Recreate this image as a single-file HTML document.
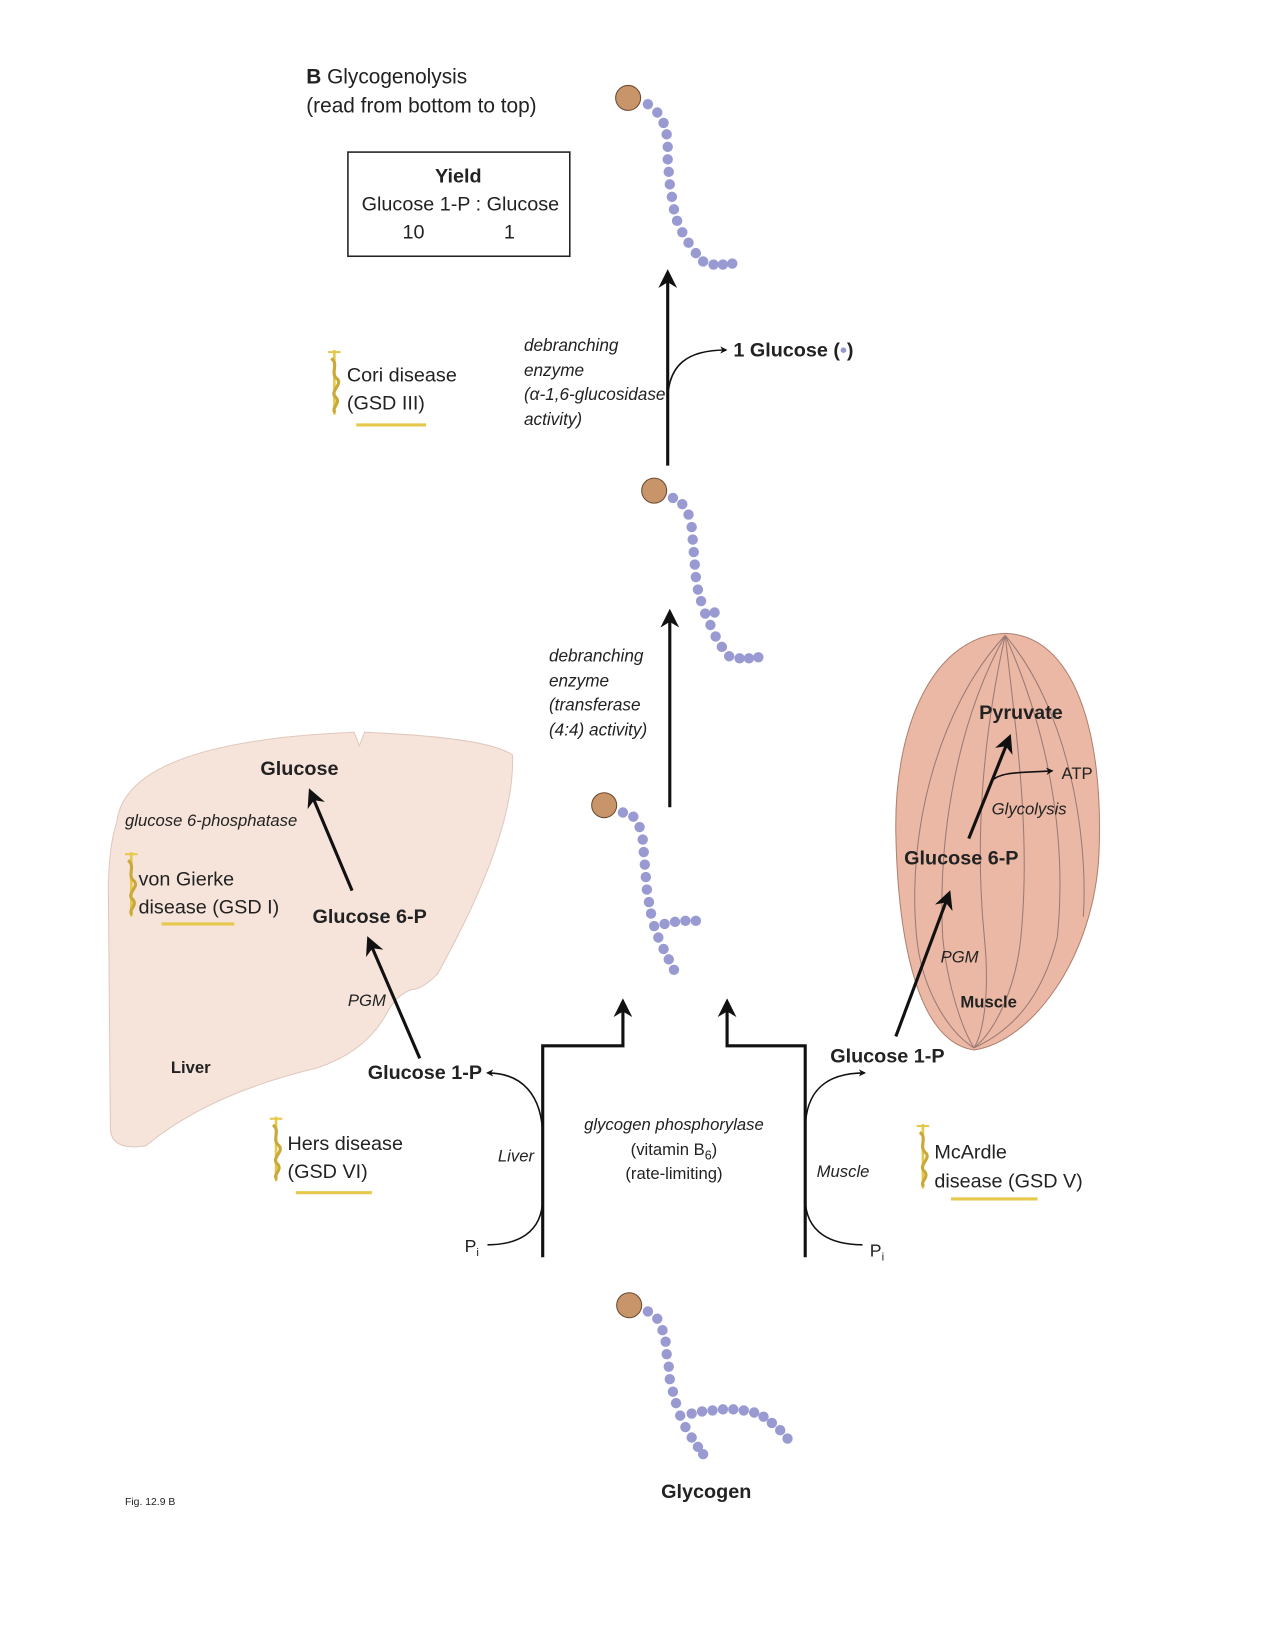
<!DOCTYPE html>
<html><head><meta charset="utf-8"><style>
html,body{margin:0;padding:0;background:#fff}
svg{display:block}
text{font-family:"Liberation Sans",sans-serif;fill:#222}
.b{font-weight:bold}
.i{font-style:italic}
</style></head><body>
<svg width="1275" height="1650" viewBox="0 0 1224 1584" xmlns="http://www.w3.org/2000/svg">
<defs>
<marker id="ah" viewBox="0 0 10 10" refX="8" refY="5" markerWidth="7" markerHeight="7" orient="auto" markerUnits="userSpaceOnUse"><path d="M0,0 L10,5 L0,10 L3,5 Z" fill="#111"/></marker>
<marker id="AH" viewBox="0 0 10 10" refX="8" refY="5" markerWidth="18" markerHeight="18" orient="auto" markerUnits="userSpaceOnUse"><path d="M0,0 L10,5 L0,10 L3,5 Z" fill="#111"/></marker>
<g id="cad"><line x1="0" y1="0" x2="0" y2="62" stroke="#e6c84a" stroke-width="2.5"/><line x1="-6" y1="2" x2="6" y2="2" stroke="#e6c84a" stroke-width="2"/><path d="M-3,8 C5,14 -5,22 3,28 C8,34 -6,40 2,46 C6,52 -4,56 1,60" stroke="#c9a93a" stroke-width="3" fill="none"/></g>
</defs>

<text x="294" y="80" font-size="20"><tspan class="b">B</tspan> Glycogenolysis</text>
<text x="294" y="108" font-size="20">(read from bottom to top)</text>
<rect x="334" y="146" width="213" height="100" fill="none" stroke="#222" stroke-width="1.5"/>
<text x="440" y="175" font-size="19" class="b" text-anchor="middle">Yield</text>
<text x="442" y="202" font-size="19" text-anchor="middle">Glucose 1-P : Glucose</text>
<text x="397" y="229" font-size="19" text-anchor="middle">10</text>
<text x="489" y="229" font-size="19" text-anchor="middle">1</text>

<path d="M112,790 Q120,712 340,703 L345,716 L350,703 Q470,708 492,725 Q495,800 420,935 Q405,950 395,950 Q380,955 370,975 Q350,1010 305,1025 Q200,1050 140,1100 Q108,1105 106,1085 L104,850 Q105,810 112,790 Z" fill="#f6e4db" stroke="#e0c8bc" stroke-width="1"/>
<g>
<path d="M965,608 C1030,610 1060,700 1055,820 C1050,920 990,1000 935,1008 C880,1000 862,900 860,800 C858,690 900,610 965,608 Z" fill="#ebb8a6" stroke="#b08070" stroke-width="1"/>
<g fill="none" stroke="#9a7a74" stroke-width="1">
<path d="M965,610 C900,680 870,800 880,900 C885,950 910,990 935,1006"/>
<path d="M965,610 C920,690 900,800 905,900 C910,950 925,990 935,1006"/>
<path d="M965,610 C945,700 935,800 945,900 C950,950 945,990 935,1006"/>
<path d="M965,610 C975,700 990,800 980,900 C975,950 955,990 935,1006"/>
<path d="M965,610 C1005,700 1025,800 1015,900 C1000,960 970,990 935,1006"/>
<path d="M965,610 C1025,680 1045,800 1040,880"/>
</g>
</g>

<g fill="#9a9ad2">
<circle cx="622" cy="100" r="5"/><circle cx="631" cy="108" r="5"/><circle cx="637" cy="118" r="5"/><circle cx="640" cy="129" r="5"/><circle cx="641" cy="141" r="5"/><circle cx="641" cy="153" r="5"/><circle cx="642" cy="165" r="5"/><circle cx="643" cy="177" r="5"/><circle cx="645" cy="189" r="5"/><circle cx="647" cy="201" r="5"/><circle cx="650" cy="212" r="5"/><circle cx="655" cy="223" r="5"/><circle cx="661" cy="233" r="5"/><circle cx="668" cy="243" r="5"/><circle cx="675" cy="251" r="5"/><circle cx="685" cy="254" r="5"/><circle cx="694" cy="254" r="5"/><circle cx="703" cy="253" r="5"/>
<circle cx="646" cy="478" r="5"/><circle cx="655" cy="484" r="5"/><circle cx="661" cy="494" r="5"/><circle cx="664" cy="506" r="5"/><circle cx="665" cy="518" r="5"/><circle cx="666" cy="530" r="5"/><circle cx="667" cy="542" r="5"/><circle cx="668" cy="554" r="5"/><circle cx="670" cy="566" r="5"/><circle cx="673" cy="577" r="5"/><circle cx="677" cy="589" r="5"/><circle cx="682" cy="600" r="5"/><circle cx="687" cy="611" r="5"/><circle cx="693" cy="621" r="5"/><circle cx="700" cy="630" r="5"/><circle cx="710" cy="632" r="5"/><circle cx="719" cy="632" r="5"/><circle cx="728" cy="631" r="5"/><circle cx="686" cy="588" r="5"/>
<circle cx="598" cy="780" r="5"/><circle cx="608" cy="784" r="5"/><circle cx="614" cy="794" r="5"/><circle cx="617" cy="806" r="5"/><circle cx="618" cy="818" r="5"/><circle cx="619" cy="830" r="5"/><circle cx="620" cy="842" r="5"/><circle cx="621" cy="854" r="5"/><circle cx="623" cy="866" r="5"/><circle cx="625" cy="877" r="5"/><circle cx="628" cy="889" r="5"/><circle cx="632" cy="900" r="5"/><circle cx="637" cy="911" r="5"/><circle cx="642" cy="921" r="5"/><circle cx="647" cy="931" r="5"/><circle cx="638" cy="887" r="5"/><circle cx="648" cy="885" r="5"/><circle cx="658" cy="884" r="5"/><circle cx="668" cy="884" r="5"/>
<circle cx="622" cy="1259" r="5"/><circle cx="631" cy="1266" r="5"/><circle cx="636" cy="1277" r="5"/><circle cx="639" cy="1288" r="5"/><circle cx="640" cy="1300" r="5"/><circle cx="642" cy="1312" r="5"/><circle cx="643" cy="1324" r="5"/><circle cx="646" cy="1336" r="5"/><circle cx="649" cy="1347" r="5"/><circle cx="653" cy="1359" r="5"/><circle cx="658" cy="1370" r="5"/><circle cx="664" cy="1380" r="5"/><circle cx="670" cy="1389" r="5"/><circle cx="675" cy="1396" r="5"/>
<circle cx="664" cy="1357" r="5"/><circle cx="674" cy="1355" r="5"/><circle cx="684" cy="1354" r="5"/><circle cx="694" cy="1353" r="5"/><circle cx="704" cy="1353" r="5"/><circle cx="714" cy="1354" r="5"/><circle cx="724" cy="1356" r="5"/><circle cx="733" cy="1360" r="5"/><circle cx="741" cy="1366" r="5"/><circle cx="749" cy="1373" r="5"/><circle cx="756" cy="1381" r="5"/>
</g>
<g fill="#c8956b" stroke="#6b4a2e" stroke-width="1">
<circle cx="603" cy="94" r="12"/><circle cx="628" cy="471" r="12"/><circle cx="580" cy="773" r="12"/><circle cx="604" cy="1253" r="12"/>
</g>

<g stroke="#111" stroke-width="3" fill="none">
<line x1="641" y1="447" x2="641" y2="262" marker-end="url(#AH)"/>
<line x1="643" y1="775" x2="643" y2="588" marker-end="url(#AH)"/>
<polyline points="521,1207 521,1004 598,1004 598,962" marker-end="url(#AH)"/>
<polyline points="773,1207 773,1004 698,1004 698,962" marker-end="url(#AH)"/>
<line x1="338" y1="855" x2="298" y2="760" marker-end="url(#AH)"/>
<line x1="403" y1="1016" x2="354" y2="902" marker-end="url(#AH)"/>
<line x1="930" y1="805" x2="969" y2="708" marker-end="url(#AH)"/>
<line x1="860" y1="995" x2="911" y2="858" marker-end="url(#AH)"/>
</g>
<g stroke="#111" stroke-width="1.5" fill="none">
<path d="M641,385 C641,350 660,336 697,336" marker-end="url(#ah)"/>
<path d="M521,1150 C521,1185 495,1195 468,1195"/>
<path d="M521,1092 C521,1050 500,1030 468,1030" marker-end="url(#ah)"/>
<path d="M773,1150 C773,1185 800,1195 828,1195"/>
<path d="M773,1085 C773,1045 795,1030 830,1030" marker-end="url(#ah)"/>
<path d="M952,750 C960,740 985,742 1010,740" marker-end="url(#ah)"/>
</g>

<text x="704" y="342" font-size="19" class="b">1 Glucose (<tspan fill="#9a9ad2">•</tspan>)</text>
<g font-size="16.5">
<text x="503" y="337" class="i">debranching</text>
<text x="503" y="361" class="i">enzyme</text>
<text x="503" y="384" class="i">(α-1,6-glucosidase</text>
<text x="503" y="408" class="i">activity)</text>
<text x="527" y="635" class="i">debranching</text>
<text x="527" y="659" class="i">enzyme</text>
<text x="527" y="682" class="i">(transferase</text>
<text x="527" y="706" class="i">(4:4) activity)</text>
</g>
<text x="647" y="1085" font-size="16" class="i" text-anchor="middle">glycogen phosphorylase</text>
<text x="647" y="1109" font-size="16" text-anchor="middle">(vitamin B<tspan font-size="12" dy="4">6</tspan><tspan dy="-4">)</tspan></text>
<text x="647" y="1132" font-size="16" text-anchor="middle">(rate-limiting)</text>
<text x="478" y="1115" font-size="16" class="i">Liver</text>
<text x="784" y="1130" font-size="16" class="i">Muscle</text>
<text x="446" y="1202" font-size="17">P<tspan font-size="11" dy="4">i</tspan></text>
<text x="835" y="1206" font-size="17">P<tspan font-size="11" dy="4">i</tspan></text>
<text x="353" y="1036" font-size="19" class="b">Glucose 1-P</text>
<text x="797" y="1020" font-size="19" class="b">Glucose 1-P</text>

<text x="250" y="744" font-size="19" class="b">Glucose</text>
<text x="120" y="793" font-size="16" class="i">glucose 6-phosphatase</text>
<text x="133" y="850" font-size="19">von Gierke</text>
<text x="133" y="877" font-size="19">disease (GSD I)</text>
<line x1="155" y1="887" x2="225" y2="887" stroke="#e6c84a" stroke-width="3"/>
<text x="300" y="886" font-size="19" class="b">Glucose 6-P</text>
<text x="334" y="966" font-size="16" class="i">PGM</text>
<text x="164" y="1030" font-size="16" class="b">Liver</text>

<text x="940" y="690" font-size="19" class="b">Pyruvate</text>
<text x="1019" y="748" font-size="16">ATP</text>
<text x="952" y="782" font-size="16" class="i">Glycolysis</text>
<text x="868" y="830" font-size="19" class="b">Glucose 6-P</text>
<text x="903" y="924" font-size="16" class="i">PGM</text>
<text x="922" y="967" font-size="16" class="b">Muscle</text>

<use href="#cad" x="321" y="336"/>
<text x="333" y="366" font-size="19">Cori disease</text>
<text x="333" y="393" font-size="19">(GSD III)</text>
<line x1="342" y1="408" x2="409" y2="408" stroke="#e6c84a" stroke-width="3"/>
<use href="#cad" x="126" y="818"/>
<use href="#cad" x="265" y="1072"/>
<text x="276" y="1104" font-size="19">Hers disease</text>
<text x="276" y="1131" font-size="19">(GSD VI)</text>
<line x1="284" y1="1145" x2="357" y2="1145" stroke="#e6c84a" stroke-width="3"/>
<use href="#cad" x="886" y="1079"/>
<text x="897" y="1112" font-size="19">McArdle</text>
<text x="897" y="1140" font-size="19">disease (GSD V)</text>
<line x1="913" y1="1151" x2="996" y2="1151" stroke="#e6c84a" stroke-width="3"/>

<text x="678" y="1438" font-size="19" class="b" text-anchor="middle">Glycogen</text>
<text x="120" y="1445" font-size="10">Fig. 12.9 B</text>
</svg>
</body></html>
